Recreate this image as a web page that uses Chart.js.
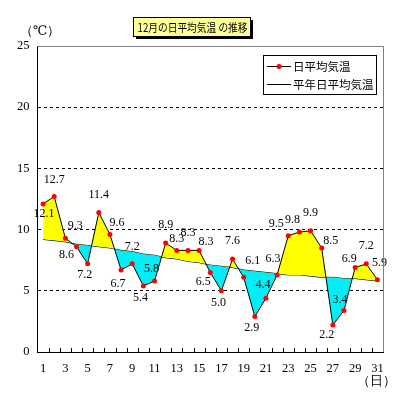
<!DOCTYPE html>
<html>
<head>
<meta charset="utf-8">
<script src="https://cdn.jsdelivr.net/npm/chart.js@4.4.0/dist/chart.umd.min.js"></script>
<style>
  html, body { margin: 0; padding: 0; background: #fff; }
  #wrap { width: 399px; height: 400px; }
</style>
</head>
<body>
<div id="wrap"><canvas id="tempChart"></canvas></div>
<script>
// data
const days = ['1', '2', '3', '4', '5', '6', '7', '8', '9', '10', '11', '12', '13', '14', '15', '16',
              '17', '18', '19', '20', '21', '22', '23', '24', '25', '26', '27', '28', '29', '30', '31'];
const dailyMean = [12.1, 12.7, 9.3, 8.6, 7.2, 11.4, 9.6, 6.7, 7.2, 5.4, 5.8, 8.9, 8.3, 8.3, 8.3, 6.5,
                   5.0, 7.6, 6.1, 2.9, 4.4, 6.3, 9.5, 9.8, 9.9, 8.5, 2.2, 3.4, 6.9, 7.2, 5.9];
const normalMean = [9.2, 9.1, 9.0, 8.8, 8.7, 8.6, 8.5, 8.3, 8.2, 8.0, 7.9, 7.7, 7.6, 7.4, 7.3, 7.1,
                    7.0, 6.9, 6.7, 6.6, 6.5, 6.4, 6.3, 6.3, 6.2, 6.1, 6.1, 6.0, 6.0, 5.9, 5.8];
const yTicks = [0, 5, 10, 15, 20, 25];
const titleText = '12月の日平均気温 の推移';
const seriesNames = ['日平均気温', '平年日平均気温'];

// where each value label sits relative to its point (dx, dy)
const labelOffsets = [
  [1, 10], [0, -17], [10, -12], [-10, 8], [-3, 11], [0, -18], [7, -12], [-3, 14],
  [0, -17], [-3, 12], [-3, -12], [0, -18], [0, -12], [0, -18], [7, -9], [-7, 9],
  [-3, 12], [0, -18], [9, -16], [-3, 11], [-3, -13], [-4, -16], [-12, -12], [-7, -12],
  [0, -18], [9, -7], [-6, 10], [-4, -11], [-6, -9], [0, -18], [2, -17]
];

const serif = '"Liberation Serif", "DejaVu Serif", serif';
const gothic = '"Noto Sans CJK JP", sans-serif';

const decorations = {
  id: 'decorations',
  afterDatasetsDraw(chart) {
    const ctx = chart.ctx;
    // value labels
    const meta = chart.getDatasetMeta(0);
    ctx.save();
    ctx.fillStyle = '#000';
    ctx.font = '12px ' + serif;
    ctx.textAlign = 'center';
    ctx.textBaseline = 'middle';
    meta.data.forEach((pt, i) => {
      const off = labelOffsets[i];
      ctx.fillText(dailyMean[i].toFixed(1), pt.x + off[0], pt.y + off[1]);
    });
    ctx.restore();
  },
  afterDraw(chart) {
    const ctx = chart.ctx;
    const area = chart.chartArea;
    const xs = chart.scales.x;

    ctx.save();
    // grey top / right frame
    ctx.strokeStyle = '#808080';
    ctx.lineWidth = 1;
    ctx.beginPath();
    ctx.moveTo(area.left, area.top + 0.5);
    ctx.lineTo(area.right + 0.5, area.top + 0.5);
    ctx.lineTo(area.right + 0.5, area.bottom);
    ctx.stroke();

    // inward tick marks between days
    ctx.strokeStyle = '#000';
    ctx.beginPath();
    for (let i = 0; i < days.length - 1; i++) {
      const x = Math.round((xs.getPixelForTick(i) + xs.getPixelForTick(i + 1)) / 2) + 0.5;
      ctx.moveTo(x, area.bottom);
      ctx.lineTo(x, area.bottom - 4);
    }
    ctx.stroke();

    // unit labels
    ctx.fillStyle = '#000';
    ctx.font = '13px ' + serif;
    ctx.textAlign = 'center';
    ctx.textBaseline = 'middle';
    ctx.fillText('（℃）', 40, 32);
    ctx.fillText('（日）', 376, 382);

    // title box with shadow
    const tx = 133, ty = 17, tw = 117, th = 19;
    ctx.fillStyle = '#000';
    ctx.fillRect(tx + 3, ty + 3, tw, th);
    ctx.fillStyle = '#ffff99';
    ctx.fillRect(tx, ty, tw, th);
    ctx.strokeStyle = '#000';
    ctx.strokeRect(tx + 0.5, ty + 0.5, tw, th);
    ctx.fillStyle = '#000';
    ctx.font = '11.5px ' + gothic;
    const tWidth = ctx.measureText(titleText).width;
    const squeeze = Math.min(1, 110 / tWidth);
    ctx.save();
    ctx.translate(tx + tw / 2 + 1, ty + th / 2 + 1);
    ctx.scale(squeeze, 1);
    ctx.fillText(titleText, 0, 0);
    ctx.restore();

    // legend box
    const lx = 263, ly = 55, lw = 113, lh = 39;
    ctx.fillStyle = '#fff';
    ctx.fillRect(lx, ly, lw, lh);
    ctx.strokeRect(lx + 0.5, ly + 0.5, lw, lh);
    ctx.textAlign = 'left';
    ctx.font = '11.5px ' + gothic;
    const rows = [ly + 11, ly + 29];
    rows.forEach((y, i) => {
      ctx.beginPath();
      ctx.moveTo(lx + 4, y + 0.5);
      ctx.lineTo(lx + 28, y + 0.5);
      ctx.stroke();
      if (i === 0) {
        ctx.fillStyle = '#ff0000';
        ctx.beginPath();
        ctx.arc(lx + 16, y + 0.5, 2.5, 0, Math.PI * 2);
        ctx.fill();
      }
      ctx.fillStyle = '#000';
      ctx.fillText(seriesNames[i], lx + 30, y + 1);
    });
    ctx.restore();
  }
};

new Chart(document.getElementById('tempChart'), {
  type: 'line',
  data: {
    labels: days,
    datasets: [{
      label: seriesNames[0],
      data: dailyMean,
      borderColor: '#000',
      borderWidth: 1,
      pointRadius: 2.5,
      pointBackgroundColor: '#ff0000',
      pointBorderColor: '#ff0000',
      pointBorderWidth: 0,
      tension: 0,
      fill: { target: 1, above: '#ffff00', below: '#00eef5' }
    }, {
      label: seriesNames[1],
      data: normalMean,
      borderColor: '#000',
      borderWidth: 1,
      pointRadius: 0,
      tension: 0,
      fill: false
    }]
  },
  options: {
    responsive: true,
    maintainAspectRatio: false,
    animation: false,
    layout: { padding: { left: 0, top: 46, right: 16, bottom: 0 } },
    plugins: {
      legend: { display: false },
      tooltip: { enabled: false }
    },
    scales: {
      x: {
        offset: true,
        grid: { display: false, drawTicks: false },
        border: { color: '#000', width: 1 },
        ticks: {
          autoSkip: false,
          maxRotation: 0,
          padding: 9,
          color: '#000',
          font: { family: serif, size: 12.5 },
          callback: (v, i) => (i % 2 === 0 ? days[i] : '')
        },
        afterFit: (s) => { s.height = 48; }
      },
      y: {
        min: yTicks[0],
        max: yTicks[yTicks.length - 1],
        afterBuildTicks: (s) => { s.ticks = yTicks.map(v => ({ value: v })); },
        grid: {
          drawTicks: false,
          color: (c) => (c.tick && c.tick.value > 0 && c.tick.value < 25 ? '#000' : 'rgba(0,0,0,0)'),
          lineWidth: 1
        },
        border: { color: '#000', width: 1, dash: [3, 3] },
        ticks: {
          padding: 8,
          color: '#000',
          font: { family: serif, size: 12.5 }
        },
        afterFit: (s) => { s.width = 37.5; }
      }
    }
  },
  plugins: [decorations]
});
</script>
</body>
</html>
